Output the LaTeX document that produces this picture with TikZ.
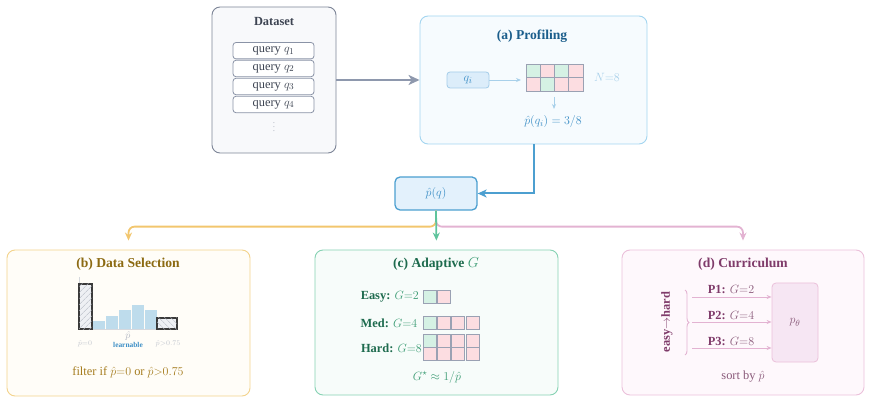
\documentclass[tikz,border=0pt]{standalone}
\usepackage{fontspec}
\setmainfont{Liberation Serif}
\usetikzlibrary{arrows.meta,patterns.meta,decorations.pathreplacing}
\definecolor{dsb}{HTML}{7D8597}
\definecolor{dsf}{HTML}{F8F9FB}
\definecolor{dsarr}{HTML}{8E98AD}
\definecolor{dstx}{HTML}{3D4452}
\definecolor{qb}{HTML}{8A93A6}
\definecolor{pb}{HTML}{A3D5F0}
\definecolor{pf}{HTML}{F6FBFE}
\definecolor{ptitle}{HTML}{1B5E8C}
\definecolor{bmid}{HTML}{4C9FD0}
\definecolor{qif}{HTML}{DCEDFA}
\definecolor{pqf}{HTML}{E3F1FC}
\definecolor{qib}{HTML}{A4CDE9}
\definecolor{blt}{HTML}{A8D0EA}
\definecolor{btx}{HTML}{3D8FC6}
\definecolor{cg}{HTML}{D5F1E4}
\definecolor{cp}{HTML}{FCDDE1}
\definecolor{cellb}{HTML}{9AA1B3}
\definecolor{yl}{HTML}{F2C66E}
\definecolor{yb}{HTML}{F3D38C}
\definecolor{yf}{HTML}{FFFDF8}
\definecolor{yt}{HTML}{8C6A12}
\definecolor{ytx}{HTML}{A57C1E}
\definecolor{gl}{HTML}{5EC49C}
\definecolor{gb}{HTML}{86D2B3}
\definecolor{gf}{HTML}{F7FCFA}
\definecolor{gt}{HTML}{1E6B4E}
\definecolor{gtx}{HTML}{3C9C74}
\definecolor{pkl}{HTML}{E3B3D2}
\definecolor{pkb}{HTML}{EBC0DA}
\definecolor{pkf}{HTML}{FEF8FC}
\definecolor{pkt}{HTML}{7F3B6A}
\definecolor{pktx}{HTML}{8A5A7A}
\definecolor{pthf}{HTML}{F6E6F3}
\definecolor{hb}{HTML}{BEDCEC}
\definecolor{hgray}{HTML}{C3C7CF}
\definecolor{hf}{HTML}{EEF0F4}
\definecolor{hdark}{HTML}{3A3A3A}
\definecolor{hpat}{HTML}{B4B9C4}
\begin{document}
\begin{tikzpicture}[x=1pt,y=-1pt, font=\fontsize{12.4}{14.5}\selectfont,
  bigbox/.style={draw, rounded corners=8pt, line width=0.9pt, inner sep=0},
  ttl/.style={font=\fontsize{13.6}{16}\selectfont\bfseries},
  qbox/.style={draw=qb, fill=white, rounded corners=3pt, line width=0.8pt, minimum width=81pt, minimum height=16.4pt, inner sep=0, text=dstx},
  br/.style={line width=1.8pt, rounded corners=6pt, -{Stealth[length=8pt,width=7pt]}, shorten >=9pt},
  thinarr/.style={line width=0.9pt, -{Stealth[length=5pt,width=4pt]}},
  smalltxt/.style={font=\fontsize{7.4}{8}\selectfont},
]
\useasboundingbox (0,0) rectangle (872,419);

% ---------- Dataset
\node[bigbox, draw=dsb, fill=dsf, minimum width=124pt, minimum height=146pt] (ds) at (274,80) {};
\node[font=\fontsize{12.4}{14}\selectfont\bfseries, text=dstx] (dst) at (274,22) {Dataset};
\node[qbox] (q1) at (273.5,50.7) {query $q_1$};
\node[qbox] (q2) at (273.5,68.5) {query $q_2$};
\node[qbox] (q3) at (273.5,86.5) {query $q_3$};
\node[qbox] (q4) at (273.5,104.5) {query $q_4$};
\node[text=dsb!60, font=\fontsize{9}{10}\selectfont] (vd) at (274,124) {$\vdots$};

% ---------- Profiling
\node[bigbox, draw=pb, fill=pf, minimum width=227pt, minimum height=128pt] (prof) at (533.5,80) {};
\node[ttl, text=ptitle] (proft) at (532,36) {(a) Profiling};
\node[draw=qib, fill=qif, rounded corners=3pt, minimum width=42pt, minimum height=16pt, inner sep=0, text=btx, line width=0.8pt] (qi) at (468,80) {$q_i$};
\foreach \c [count=\i from 0] in {cg,cp,cg,cp}
  \filldraw[fill=\c, draw=cellb, line width=0.6pt] (526+\i*14.25,64) rectangle ++(14.25,13.5);
\foreach \c [count=\i from 0] in {cp,cg,cp,cp}
  \filldraw[fill=\c, draw=cellb, line width=0.6pt] (526+\i*14.25,77.5) rectangle ++(14.25,13.5);
\coordinate (gridw) at (526,80);
\draw[thinarr, blt] (qi.east) -- (gridw) [shorten >=5pt];
\node[text=blt] (N) at (607,77) {$N{=}8$};
\coordinate (ga) at (554,97);
\coordinate (gb2) at (554,109);
\draw[thinarr, blt] (ga) -- (gb2);
\node[text=btx] (phq) at (553,122) {$\hat p(q_i) = 3/8$};

\draw[dsarr, line width=2pt, -{Stealth[length=11pt,width=10pt,inset=3pt]}] (ds.east) -- (prof.west);

% ---------- p(q)
\node[draw=bmid, fill=pqf, rounded corners=5pt, line width=1.3pt, minimum width=82pt, minimum height=33pt, text=btx] (pq) at (436,193.5) {$\hat p(q)$};
\draw[bmid, line width=2pt, -{Stealth[length=9pt,width=8pt,inset=2.5pt]}] (prof.south) |- (pq.east);

% ---------- (b) Data Selection
\node[bigbox, draw=yb, fill=yf, minimum width=243pt, minimum height=146pt] (bsel) at (128.5,323) {};
\node[ttl, text=yt] (bt) at (128,264) {(b) Data Selection};
\draw[hgray!70, line width=0.5pt] (79,277) -- (79,329) -- (177,329);
\fill[hb] (92.6,321) rectangle (104.6,329);
\fill[hb] (105.6,316) rectangle (117.6,329);
\fill[hb] (118.6,310) rectangle (130.6,329);
\fill[hb] (131.6,305) rectangle (143.6,329);
\fill[hb] (144.6,310) rectangle (156.6,329);
\filldraw[fill=hf, draw=hdark, line width=1.1pt, postaction={pattern={Lines[angle=45,distance=4pt,line width=0.5pt]}, pattern color=hpat}] (79,284) rectangle (92,329);
\filldraw[fill=hf, draw=hdark, line width=1.1pt, postaction={pattern={Lines[angle=-45,distance=4pt,line width=0.5pt]}, pattern color=hpat}] (157,318) rectangle (177,329);
\node[smalltxt, text=hgray] (l0) at (85,344) {$\hat p{=}0$};
\node[smalltxt, text=hgray] (l1) at (168,344) {$\hat p{>}0.75$};
\node[font=\fontsize{10}{11}\selectfont, text=hpat] (lp) at (128,335.5) {$\hat p$};
\node[font=\fontsize{7.4}{8}\selectfont\bfseries, text=btx] (ll) at (128,345) {learnable};
\node[text=ytx] (filt) at (128,372) {filter if $\hat p{=}0$ or $\hat p{>}0.75$};

% ---------- (c) Adaptive G
\node[bigbox, draw=gb, fill=gf, minimum width=243pt, minimum height=145pt] (adapt) at (436.5,322.5) {};
\node[ttl, text=gt] (ct) at (436,264) {(c) Adaptive \textcolor{gtx}{$G$}};
\node[anchor=east, inner sep=0, text=gtx] (easy) at (419,297) {\textcolor{gt}{\textbf{Easy:}} $G{=}2$};
\node[anchor=east, inner sep=0, text=gtx] (med) at (417.5,323) {\textcolor{gt}{\textbf{Med:}} $G{=}4$};
\node[anchor=east, inner sep=0, text=gtx] (hard) at (422,348) {\textcolor{gt}{\textbf{Hard:}} $G{=}8$};
\foreach \c [count=\i from 0] in {cg,cp}
  \filldraw[fill=\c, draw=cellb, line width=0.6pt] (423.3+\i*14.2,290.3) rectangle ++(13,13);
\foreach \c [count=\i from 0] in {cg,cp,cp,cp}
  \filldraw[fill=\c, draw=cellb, line width=0.6pt] (423.3+\i*14.2,316.3) rectangle ++(13,13);
\foreach \c [count=\i from 0] in {cg,cp,cp,cp}
  \filldraw[fill=\c, draw=cellb, line width=0.6pt] (423.3+\i*14.2,334.3) rectangle ++(13,13);
\foreach \c [count=\i from 0] in {cp,cp,cp,cp}
  \filldraw[fill=\c, draw=cellb, line width=0.6pt] (423.3+\i*14.2,347.3) rectangle ++(13,13);
\node[text=gtx] (gstar) at (437,377) {$G^\star \approx 1/\hat p$};

% ---------- (d) Curriculum
\node[bigbox, draw=pkb, fill=pkf, minimum width=242pt, minimum height=145pt] (cur) at (743,322.5) {};
\node[ttl, text=pkt] (dt) at (743,264) {(d) Curriculum};
\node[draw=pkb, fill=pthf, rounded corners=4pt, line width=0.8pt, minimum width=46pt, minimum height=79pt, text=pktx] (pth) at (795,322.5) {$p_\theta$};
\node[rotate=90, font=\fontsize{12.4}{14}\selectfont\bfseries, text=pkt] (eh) at (667,322) {easy$\to$hard};
\coordinate (bra) at (685,290);
\coordinate (brb) at (685,355);
\draw[pkl, line width=0.9pt, decorate, decoration={brace, amplitude=4pt}] (bra) -- (brb);
\coordinate (s1) at (692,297);
\coordinate (s2) at (692,322);
\coordinate (s3) at (692,348);
\draw[thinarr, pkl] (s1) -- (s1 -| pth.west);
\draw[thinarr, pkl] (s2) -- (s2 -| pth.west);
\draw[thinarr, pkl] (s3) -- (s3 -| pth.west);
\node[text=pkt] (p1) at (731,289) {\textbf{P1:} \textcolor{pktx}{$G{=}2$}};
\node[text=pkt] (p2) at (731,315) {\textbf{P2:} \textcolor{pktx}{$G{=}4$}};
\node[text=pkt] (p3) at (731,341) {\textbf{P3:} \textcolor{pktx}{$G{=}8$}};
\node[text=pktx] (sb) at (743,377) {sort by $\hat p$};

% ---------- branches
\draw[br, yl] (pq.south) -- ++(0,16) -| (bsel.north);
\draw[br, pkl] (pq.south) -- ++(0,16) -| (cur.north);
\draw[br, gl] (pq.south) -- (adapt.north);
\end{tikzpicture}
\end{document}
